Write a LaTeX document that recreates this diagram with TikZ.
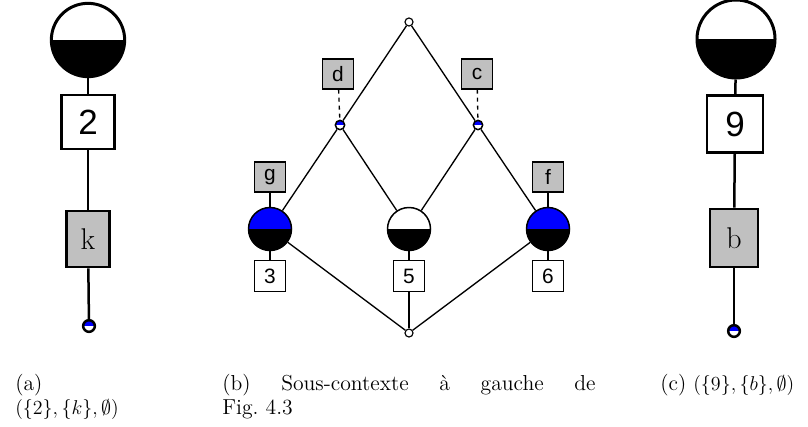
\documentclass[tikz,border=0pt]{standalone}
\usepackage{fontspec}
\setsansfont{Liberation Sans}
\usepackage{xcolor}
\usepackage{tikz}

\definecolor{silver}{RGB}{192,192,192}

\begin{document}
\begin{tikzpicture}[
    x=0.6pt, y=-0.6pt,
    halfnode/.style={draw, circle, inner sep=0pt, fill=#1, path picture={\fill[black] (path picture bounding box.west) rectangle (path picture bounding box.south east);}},
    dotnode/.style={draw, circle, inner sep=0pt, fill=white, path picture={\fill[blue] (path picture bounding box.west) rectangle (path picture bounding box.north east);}},
    bignum/.style={draw, rectangle, fill=white, line width=1.7pt, inner sep=0pt, font=\sffamily\fontsize{21}{24}\selectfont},
    bigattr/.style={draw, rectangle, fill=silver, line width=1.7pt, inner sep=0pt, font=\fontsize{18}{20}\selectfont},
    smallnum/.style={draw, rectangle, fill=white, line width=0.75pt, inner sep=0pt, minimum width=18.6pt, minimum height=19pt, font=\sffamily\fontsize{12.5}{14}\selectfont},
    smallattr/.style={smallnum, fill=silver, minimum height=18pt},
    bigedge/.style={line width=1.5pt},
    edge/.style={line width=0.8pt},
    caption/.style={anchor=north west, inner sep=0pt, font=\fontsize{13}{14.6}\selectfont}
]
    \useasboundingbox (0,0) rectangle (808,426);

    % (a)
    \node (topA) [halfnode=white, line width=1.8pt, minimum size=44pt] at (88,40) {};
    \node (numA) [bignum, minimum width=31.8pt, minimum height=32.4pt] at (88,122) {2};
    \node (attrA) [bigattr, minimum width=25.8pt, minimum height=33.6pt] at (88,239) {k};
    \node (botA) [dotnode, line width=1.5pt, minimum size=7pt] at (89,326) {};
    \draw [bigedge] (topA) -- (numA);
    \draw [bigedge] (numA) -- (attrA);
    \draw [bigedge] (attrA) -- (botA);

    % (b)
    \node (top) [draw, circle, fill=white, inner sep=0pt, line width=0.7pt, minimum size=4.8pt] at (409,22) {};
    \node (midL) [dotnode, line width=0.9pt, minimum size=5.6pt] at (340,125) {};
    \node (midR) [dotnode, line width=0.9pt, minimum size=5.6pt] at (478,125) {};
    \node (bot) [draw, circle, fill=white, inner sep=0pt, line width=0.7pt, minimum size=4.8pt] at (409,333) {};
    \node (cL) [halfnode=blue, line width=0.9pt, minimum size=25.8pt] at (270,229) {};
    \node (cM) [halfnode=white, line width=0.9pt, minimum size=25.8pt] at (409,229) {};
    \node (cR) [halfnode=blue, line width=0.9pt, minimum size=25.8pt] at (548,229) {};

    \node (d) [smallattr] at (338,74) {d};
    \node (c) [smallattr] at (477,74) {c};
    \node (g) [smallattr] at (270,177) {g};
    \node (f) [smallattr] at (548,177) {f};
    \node (n3) [smallnum] at (270,276) {3};
    \node (n5) [smallnum] at (409,276) {5};
    \node (n6) [smallnum] at (548,276) {6};

    \draw [edge] (top) -- (midL);
    \draw [edge] (top) -- (midR);
    \draw [edge] (midL) -- (cL);
    \draw [edge] (midL) -- (cM);
    \draw [edge] (midR) -- (cM);
    \draw [edge] (midR) -- (cR);
    \draw [edge] (cL) -- (bot);
    \draw [edge] (cR) -- (bot);
    \draw [edge] (cM) -- (n5);
    \draw [edge] (n5) -- (bot);
    \draw [edge] (g) -- (cL);
    \draw [edge] (f) -- (cR);
    \draw [edge] (cL) -- (n3);
    \draw [edge] (cR) -- (n6);
    \draw [edge, dash pattern=on 2.4pt off 2.4pt] (d) -- (midL);
    \draw [edge, dash pattern=on 2.4pt off 2.4pt] (c) -- (midR);

    % (c)
    \node (topC) [halfnode=white, line width=1.8pt, minimum size=46.8pt] at (736,39) {};
    \node (numC) [bignum, minimum width=33.6pt, minimum height=34.2pt] at (735,124) {9};
    \node (attrC) [bigattr, minimum width=28.8pt, minimum height=34.8pt] at (734,238) {b};
    \node (botC) [dotnode, line width=1.5pt, minimum size=7pt] at (734,331) {};
    \draw [bigedge] (topC) -- (numC);
    \draw [bigedge] (numC) -- (attrC);
    \draw [bigedge] (attrC) -- (botC);

    % captions
    \node (capA) [caption, align=left] at (15,374) {(a)\\$(\{2\},\{k\},\emptyset)$};
    \node (capB) [caption, text width=224pt, align=justify] at (222,374) {(b) Sous-contexte à gauche de\linebreak Fig.~4.3};
    \node (capC) [caption] at (660,374) {(c) $(\{9\},\{b\},\emptyset)$};
\end{tikzpicture}
\end{document}
